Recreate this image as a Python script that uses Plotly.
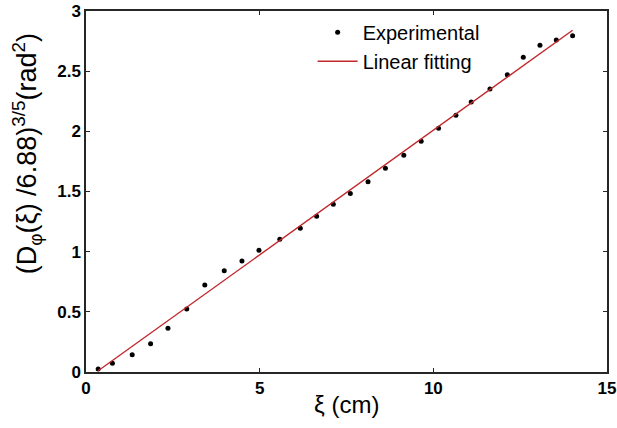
import plotly.graph_objects as go

# Structure-function data: separation xi (cm) vs normalised phase structure function
xi_cm = [0.35, 0.76, 1.33, 1.86, 2.36, 2.90, 3.42, 3.98, 4.49, 4.98,
         5.58, 6.17, 6.64, 7.12, 7.61, 8.12, 8.62, 9.15, 9.65, 10.15,
         10.65, 11.09, 11.63, 12.13, 12.59, 13.07, 13.54, 14.01]
d_phi = [0.025, 0.072, 0.144, 0.235, 0.363, 0.524, 0.723, 0.842, 0.922, 1.011,
         1.103, 1.194, 1.294, 1.394, 1.483, 1.581, 1.693, 1.801, 1.917, 2.025,
         2.133, 2.244, 2.352, 2.471, 2.615, 2.715, 2.759, 2.795]

# Linear fit evaluated at the ends of the data range
fit_x = [0.35, 14.01]
fit_y = [0.01, 2.84]

x_ticks = [0, 5, 10, 15]
y_ticks = [0, 0.5, 1, 1.5, 2, 2.5, 3]
y_tick_text = ["0", "0.5", "1", "1.5", "2", "2.5", "3"]

FONT = "Liberation Sans, Arial, sans-serif"

fig = go.Figure()
fig.add_trace(go.Scatter(
    x=xi_cm, y=d_phi, mode="markers", name="Experimental",
    marker=dict(color="black", size=5),
))
fig.add_trace(go.Scatter(
    x=fit_x, y=fit_y, mode="lines", name="Linear fitting",
    line=dict(color="#c1272d", width=1.4),
))

axis_common = dict(
    showgrid=False, zeroline=False, showline=True, mirror="ticks",
    linecolor="#262626", linewidth=1.5, ticks="inside", ticklen=4,
    tickcolor="#262626", tickwidth=1, automargin=False,
    tickfont=dict(family=FONT, size=17, color="black", weight="bold"),
)

fig.update_xaxes(range=[0, 15], tickvals=x_ticks, **axis_common)
fig.update_yaxes(range=[0, 3], tickvals=y_ticks, ticktext=y_tick_text, **axis_common)

fig.update_layout(
    width=617, height=428,
    margin=dict(l=86, r=10, t=11, b=56, autoexpand=False),
    paper_bgcolor="white", plot_bgcolor="white",
    font=dict(family=FONT, color="black"),
    showlegend=True,
    legend=dict(
        x=0.435, y=0.995, xanchor="left", yanchor="top",
        bgcolor="rgba(0,0,0,0)", borderwidth=0,
        font=dict(family=FONT, size=20, color="black"),
        itemwidth=40,
    ),
    annotations=[
        dict(
            text="ξ (cm)", x=0.5, y=-0.09, xref="paper", yref="paper",
            xanchor="center", yanchor="middle", showarrow=False,
            font=dict(family=FONT, size=24, color="black"),
        ),
        dict(
            text="(D<sub>φ</sub>(ξ) /6.88)<sup>3/5</sup>(rad<sup>2</sup>)",
            x=-0.114, y=0.605, xref="paper", yref="paper",
            xanchor="center", yanchor="middle", showarrow=False, textangle=-90,
            font=dict(family=FONT, size=27, color="black"),
        ),
    ],
)

fig.write_html("out.html")
